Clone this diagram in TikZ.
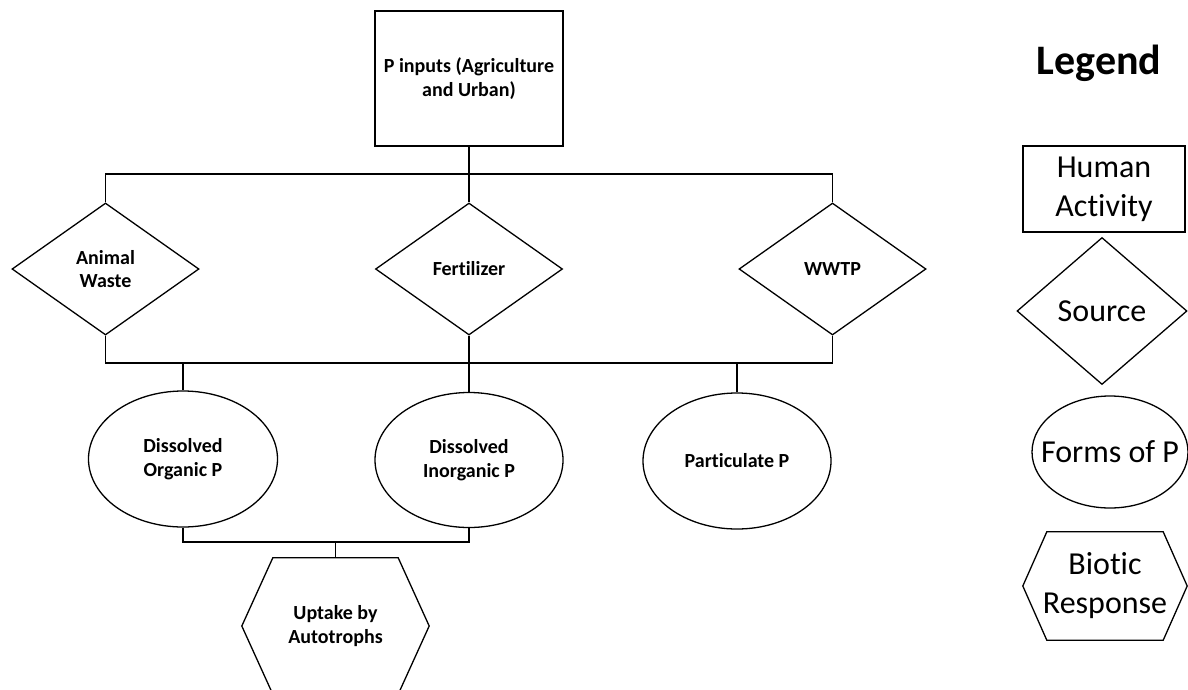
\documentclass[tikz,border=0pt]{standalone}
\usepackage{fontspec}
\setmainfont{Carlito}[Ligatures=NoCommon]
\usetikzlibrary{shapes.geometric}
\tikzset{
  ln/.style={line width=1.3pt, black},
  mainfont/.style={font=\bfseries\fontsize{20}{23.5}\selectfont},
  legfont/.style={font=\fontsize{32}{39}\selectfont},
  actbox/.style={draw, line width=1.3pt, inner sep=0pt, align=center},
  srcdia/.style={diamond, draw, line width=1.3pt, inner sep=0pt, align=center},
  formell/.style={ellipse, draw, line width=1.3pt, inner sep=0pt, align=center},
  hexlbl/.style={inner sep=0pt, align=center},
}
\begin{document}
\begin{tikzpicture}[x=1pt,y=-1pt]
\useasboundingbox (0,0) rectangle (1188,689);
% main nodes
\node[actbox, mainfont, minimum width=188pt, minimum height=135pt] (pin) at (469,78.5) {P inputs (Agriculture\\and Urban)};
\node[srcdia, mainfont, minimum width=187pt, minimum height=132pt] (aw) at (105.5,269) {Animal\\Waste};
\node[srcdia, mainfont, minimum width=187pt, minimum height=132pt] (fert) at (469,269) {Fertilizer};
\node[srcdia, mainfont, minimum width=187pt, minimum height=132pt] (ww) at (832.5,269) {WWTP};
\node[formell, mainfont, minimum width=189pt, minimum height=136pt] (dop) at (183,459) {Dissolved\\Organic P};
\node[formell, mainfont, minimum width=188pt, minimum height=135pt] (dip) at (469,460) {Dissolved\\Inorganic P};
\node[formell, mainfont, minimum width=188pt, minimum height=136pt] (pp) at (737,461) {Particulate P};
\node[hexlbl, mainfont, minimum width=187pt, minimum height=136pt] (upt) at (335.5,626) {Uptake by\\Autotrophs};
\draw[ln] ([xshift=31pt]upt.north west) -- ([xshift=-31pt]upt.north east) -- (upt.east)
  -- ([xshift=-31pt]upt.south east) -- ([xshift=31pt]upt.south west) -- (upt.west) -- cycle;
% connectors
\coordinate (t1) at (469,174);
\coordinate (t2) at (469,363);
\coordinate (t3) at (335.5,542);
\draw[ln] (pin.south) -- (fert.north);
\draw[ln] (aw.north) |- (t1) -| (ww.north);
\draw[ln] (aw.south) |- (t2) -| (ww.south);
\draw[line width=2pt] (dop.north |- t2) -- (ww.south |- t2);
\draw[ln] (fert.south) -- (dip.north);
\draw[line width=2pt] (dop.north |- t2) -- (dop.north);
\draw[ln] (pp.north |- t2) -- (pp.north);
\draw[ln] (dop.south) |- (t3) -| (dip.south);
\draw[ln] (t3) -- (upt.north);
% legend
\node[font=\bfseries\fontsize{42}{50}\selectfont] (leg) at (1099,63) {Legend};
\node[actbox, legfont, minimum width=162pt, minimum height=86pt] (ha) at (1104,189) {Human\\Activity};
\node[srcdia, legfont, minimum width=170pt, minimum height=147pt] (src) at (1102,311) {Source};
\node[formell, legfont, minimum width=156pt, minimum height=112pt] (fop) at (1110,452) {\makebox[0pt]{Forms of P}};
\node[hexlbl, legfont, minimum width=164pt, minimum height=108pt] (bio) at (1105,586) {Biotic\\Response};
\draw[ln] ([xshift=24pt]bio.north west) -- ([xshift=-24pt]bio.north east) -- (bio.east)
  -- ([xshift=-24pt]bio.south east) -- ([xshift=24pt]bio.south west) -- (bio.west) -- cycle;
\end{tikzpicture}
\end{document}
